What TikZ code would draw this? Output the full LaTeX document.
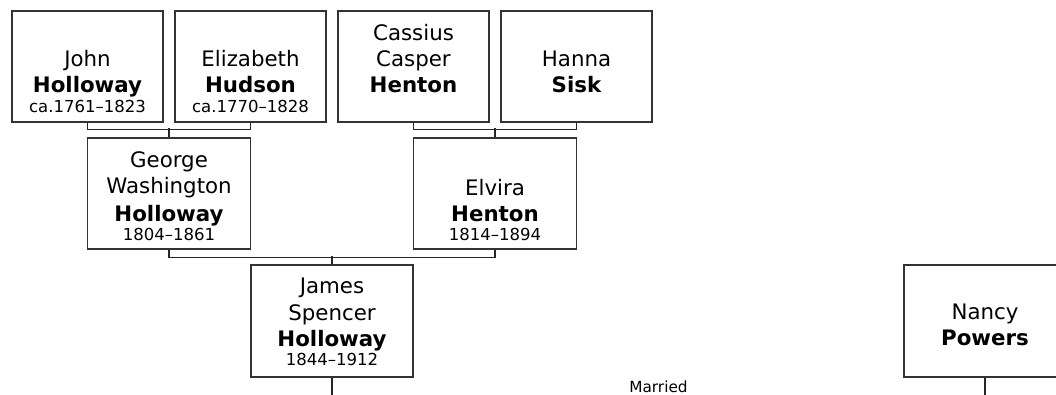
\documentclass[tikz,border=0pt]{standalone}
\usepackage{fontspec}
\setmainfont{DejaVu Sans}
\usetikzlibrary{calc}
\begin{document}
\begin{tikzpicture}[x=0.75pt,y=-0.75pt,
  pbox/.style={draw=black!80,line width=1pt,rectangle,inner sep=0pt},
  nm/.style={anchor=base,inner sep=0pt,font=\fontsize{16}{18}\selectfont},
  sn/.style={anchor=base,inner sep=0pt,font=\fontsize{16}{18}\selectfont\bfseries},
  dt/.style={anchor=base,inner sep=0pt,font=\fontsize{12.4}{14}\selectfont},
  conn/.style={draw=black!85,line width=0.8pt}]
\useasboundingbox (0,0) rectangle (1056,395);
% row 1
\node[pbox,minimum width=151*0.75pt,minimum height=111*0.75pt] (john) at (87.5,66.5) {};
\node[pbox,minimum width=151*0.75pt,minimum height=111*0.75pt] (eliz) at (250.5,66.5) {};
\node[pbox,minimum width=151*0.75pt,minimum height=111*0.75pt] (cass) at (413.5,66.5) {};
\node[pbox,minimum width=151*0.75pt,minimum height=111*0.75pt] (hanna) at (576.5,66.5) {};
% row 2
\node[pbox,minimum width=163*0.75pt,minimum height=111*0.75pt] (george) at (169,193.5) {};
\node[pbox,minimum width=163*0.75pt,minimum height=111*0.75pt] (elvira) at (495,193.5) {};
% row 3
\node[pbox,minimum width=162*0.75pt,minimum height=112*0.75pt] (james) at (332,321) {};
\node[pbox,minimum width=162*0.75pt,minimum height=112*0.75pt] (nancy) at (985,321) {};
% texts
\node[nm] (johnA) at ($(john.south)+(0,-56)$) {John};
\node[sn] (johnB) at ($(john.south)+(0,-30)$) {Holloway};
\node[dt] (johnC) at ($(john.south)+(0,-10.5)$) {ca.1761–1823};
\node[nm] (elizA) at ($(eliz.south)+(0,-56)$) {Elizabeth};
\node[sn] (elizB) at ($(eliz.south)+(0,-30)$) {Hudson};
\node[dt] (elizC) at ($(eliz.south)+(0,-10.5)$) {ca.1770–1828};
\node[nm] (cassA) at ($(cass.south)+(0,-82)$) {Cassius};
\node[nm] (cassB) at ($(cass.south)+(0,-56)$) {Casper};
\node[sn] (cassC) at ($(cass.south)+(0,-30)$) {Henton};
\node[nm] (hannaA) at ($(hanna.south)+(0,-56)$) {Hanna};
\node[sn] (hannaB) at ($(hanna.south)+(0,-30)$) {Sisk};
\node[nm] (georgeA) at ($(george.south)+(0,-82)$) {George};
\node[nm] (georgeB) at ($(george.south)+(0,-56)$) {Washington};
\node[sn] (georgeC) at ($(george.south)+(0,-28)$) {Holloway};
\node[dt] (georgeD) at ($(george.south)+(0,-9.5)$) {1804–1861};
\node[nm] (elviraA) at ($(elvira.south)+(0,-54)$) {Elvira};
\node[sn] (elviraB) at ($(elvira.south)+(0,-28)$) {Henton};
\node[dt] (elviraC) at ($(elvira.south)+(0,-9.5)$) {1814–1894};
\node[nm] (jamesA) at ($(james.south)+(0,-84)$) {James};
\node[nm] (jamesB) at ($(james.south)+(0,-57)$) {Spencer};
\node[sn] (jamesC) at ($(james.south)+(0,-31)$) {Holloway};
\node[dt] (jamesD) at ($(james.south)+(0,-12)$) {1844–1912};
\node[nm] (nancyA) at ($(nancy.south)+(0,-58)$) {Nancy};
\node[sn] (nancyB) at ($(nancy.south)+(0,-32)$) {Powers};
% connectors
\draw[conn] (john.south) -- ++(0,7) -| (eliz.south);
\draw[conn] (george.north) -- ++(0,-9);
\draw[conn] (cass.south) -- ++(0,7) -| (hanna.south);
\draw[conn] (elvira.north) -- ++(0,-9);
\draw[conn] (george.south) -- ++(0,8) -| (elvira.south);
\draw[conn] (james.north) -- ++(0,-8);
\coordinate (jend) at (332,395);
\coordinate (nend) at (985,395);
\draw[conn] (james.south) -- (jend);
\draw[conn] (nancy.south) -- (nend);
\node[anchor=base,inner sep=0pt,font=\fontsize{11.5}{13}\selectfont] (married) at (658.5,392) {Married};
\end{tikzpicture}
\end{document}
